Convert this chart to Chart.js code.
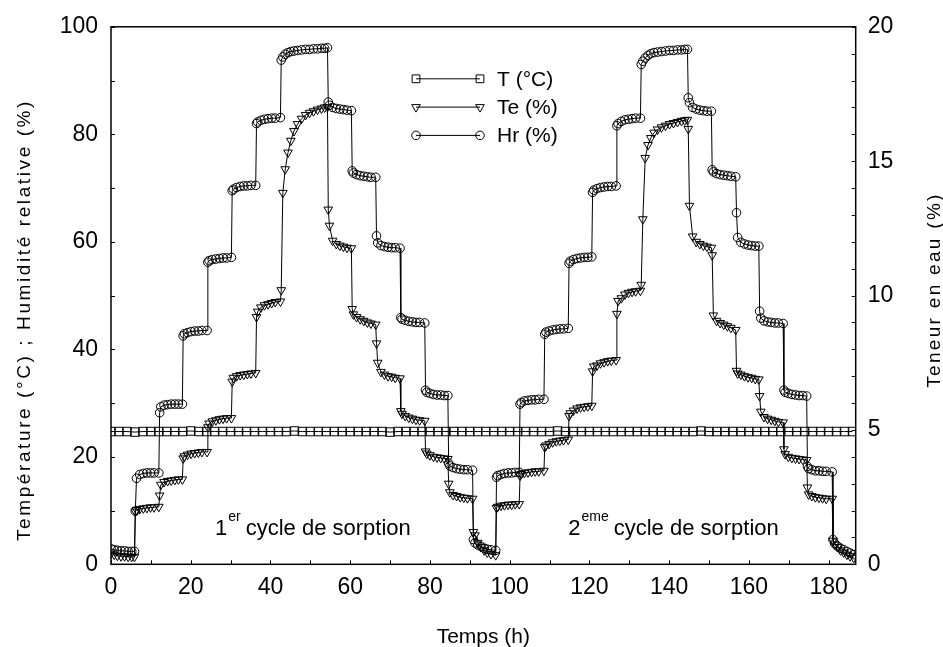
<!DOCTYPE html>
<html>
<head>
<meta charset="utf-8">
<script src="https://cdn.jsdelivr.net/npm/chart.js@4/dist/chart.umd.min.js"></script>
<style>
  html, body { margin: 0; padding: 0; background: #fff; }
  #wrap { width: 943px; height: 647px; }
</style>
</head>
<body>
<div id="wrap"><canvas id="c" width="943" height="647"></canvas></div>
<script>
// ---------- DATA ----------
// Time (h) shared by Hr and Te series
const timeHT = [
  0.0, 0.8, 1.6, 2.5, 3.4, 4.3, 5.2, 5.9,
  6.1, 6.4, 7.2, 8.1, 9.0, 9.9, 10.8, 12.0,
  12.2, 12.5, 13.3, 14.2, 15.1, 16.0, 16.9, 17.9,
  18.1, 18.4, 19.2, 20.1, 21.0, 21.9, 22.8, 24.1,
  24.3, 24.6, 25.4, 26.3, 27.2, 28.1, 29.0, 30.2,
  30.4, 30.7, 31.5, 32.4, 33.3, 34.2, 35.1, 36.3,
  36.5, 36.8, 37.6, 38.5, 39.4, 40.3, 41.2, 42.5,
  42.7, 43.1, 43.7, 44.4, 45.1, 45.9, 46.8, 47.8, 48.8, 49.8, 50.8, 51.8, 52.8, 53.6, 54.3,
  54.5, 54.8, 55.6, 56.5, 57.4, 58.3, 59.2, 60.3,
  60.5, 60.8, 61.6, 62.5, 63.4, 64.3, 65.2, 66.4,
  66.6, 66.9, 67.7, 68.6, 69.5, 70.4, 71.3, 72.5,
  72.7, 73.0, 73.8, 74.7, 75.6, 76.5, 77.4, 78.7,
  78.9, 79.2, 80.0, 80.9, 81.8, 82.7, 83.6, 84.5,
  84.7, 85.0, 85.8, 86.7, 87.6, 88.5, 89.4, 90.7,
  90.9, 91.3, 92.0, 92.8, 93.6, 94.4, 95.3, 96.5,
  96.7, 97.0, 97.8, 98.7, 99.6, 100.5, 101.4, 102.4,
  102.6, 102.9, 103.7, 104.6, 105.5, 106.4, 107.3, 108.6,
  108.8, 109.1, 109.9, 110.8, 111.7, 112.6, 113.5, 114.7,
  114.9, 115.2, 116.0, 116.9, 117.8, 118.7, 119.6, 120.6,
  120.8, 121.1, 121.9, 122.8, 123.7, 124.6, 125.5, 126.7,
  126.9, 127.2, 128.0, 128.9, 129.8, 130.7, 131.6, 132.8,
  133.0, 133.4, 134.0, 134.7, 135.4, 136.2, 137.1, 138.1, 139.1, 140.1, 141.1, 142.1, 143.1, 143.9, 144.6,
  144.8, 145.1, 145.9, 146.8, 147.7, 148.6, 149.5, 150.6,
  150.8, 151.1, 151.9, 152.8, 153.7, 154.6, 155.5, 156.7,
  156.9, 157.2, 158.0, 158.9, 159.8, 160.7, 161.6, 162.5,
  162.7, 163.0, 163.8, 164.7, 165.6, 166.5, 167.4, 168.6,
  168.8, 169.1, 169.9, 170.8, 171.7, 172.6, 173.5, 174.5,
  174.7, 175.0, 175.8, 176.7, 177.6, 178.5, 179.4, 180.9,
  181.1, 181.5, 182.2, 183.0, 183.8, 184.6, 185.4, 186.3
];
// Relative humidity Hr (%) - left axis
const hrValues = [
  2.9, 2.7, 2.6, 2.5, 2.5, 2.4, 2.4, 2.4,
  9.9, 16.0, 16.7, 16.9, 17.0, 17.0, 17.0, 17.0,
  28.2, 29.3, 29.6, 29.7, 29.8, 29.8, 29.8, 29.8,
  42.5, 42.9, 43.1, 43.3, 43.4, 43.4, 43.5, 43.5,
  56.2, 56.5, 56.7, 56.8, 56.9, 57.0, 57.0, 57.1,
  69.5, 69.8, 70.1, 70.3, 70.4, 70.4, 70.5, 70.5,
  82.0, 82.3, 82.6, 82.8, 82.9, 83.0, 83.0, 83.1,
  93.8, 94.4, 94.9, 95.2, 95.4, 95.5, 95.6, 95.7, 95.8, 95.8, 95.9, 95.9, 96.0, 96.0, 96.1,
  86.0, 85.4, 85.0, 84.8, 84.7, 84.6, 84.5, 84.4,
  73.2, 72.8, 72.5, 72.3, 72.2, 72.1, 72.0, 72.0,
  61.1, 59.8, 59.3, 59.1, 59.0, 58.9, 58.9, 58.8,
  45.9, 45.6, 45.4, 45.2, 45.1, 45.0, 45.0, 44.9,
  32.4, 32.0, 31.8, 31.6, 31.5, 31.5, 31.4, 31.4,
  18.8, 18.3, 18.0, 17.8, 17.7, 17.6, 17.6, 17.5,
  4.6, 4.0, 3.6, 3.3, 3.0, 2.8, 2.7, 2.6,
  16.2, 16.5, 16.7, 16.9, 17.0, 17.0, 17.1, 17.1,
  29.8, 30.1, 30.4, 30.5, 30.6, 30.6, 30.7, 30.7,
  42.8, 43.2, 43.4, 43.6, 43.7, 43.8, 43.8, 43.9,
  56.0, 56.4, 56.7, 56.9, 57.0, 57.1, 57.1, 57.2,
  69.2, 69.6, 69.9, 70.1, 70.2, 70.3, 70.3, 70.4,
  81.6, 82.0, 82.4, 82.7, 82.8, 82.9, 83.0, 83.0,
  93.0, 93.6, 94.2, 94.7, 95.0, 95.2, 95.3, 95.4, 95.5, 95.6, 95.6, 95.7, 95.7, 95.8, 95.8,
  86.8, 85.9, 85.0, 84.7, 84.5, 84.4, 84.3, 84.3,
  73.4, 73.0, 72.7, 72.5, 72.4, 72.3, 72.2, 72.1,
  65.4, 60.8, 59.9, 59.6, 59.4, 59.3, 59.2, 59.2,
  47.1, 45.8, 45.3, 45.1, 45.0, 44.9, 44.9, 44.8,
  32.4, 32.0, 31.8, 31.6, 31.5, 31.4, 31.4, 31.3,
  18.2, 17.8, 17.6, 17.4, 17.4, 17.3, 17.3, 17.2,
  4.6, 3.9, 3.4, 3.0, 2.7, 2.4, 2.1, 1.8
];
// Water content Te (%) - right axis
const teValues = [
  0.40, 0.36, 0.32, 0.30, 0.30, 0.28, 0.28, 0.28,
  1.96, 2.02, 2.06, 2.08, 2.10, 2.12, 2.12, 2.14,
  2.56, 2.96, 3.06, 3.10, 3.12, 3.14, 3.16, 3.16,
  3.94, 4.02, 4.08, 4.12, 4.14, 4.16, 4.18, 4.18,
  5.10, 5.24, 5.32, 5.36, 5.40, 5.42, 5.44, 5.44,
  6.80, 6.94, 7.00, 7.04, 7.06, 7.08, 7.10, 7.12,
  9.20, 9.40, 9.56, 9.64, 9.68, 9.72, 9.76, 9.78,
  10.20, 13.82, 14.70, 15.32, 15.76, 16.12, 16.38, 16.58, 16.72, 16.80, 16.86, 16.92, 16.96, 17.00, 17.02,
  13.20, 12.60, 12.04, 11.92, 11.86, 11.82, 11.78, 11.76,
  9.50, 9.30, 9.20, 9.12, 9.06, 9.00, 8.96, 8.92,
  8.22, 7.50, 7.16, 7.06, 7.00, 6.98, 6.94, 6.92,
  5.70, 5.60, 5.52, 5.46, 5.42, 5.38, 5.36, 5.34,
  4.20, 4.12, 4.06, 4.00, 3.98, 3.96, 3.94, 3.92,
  3.00, 2.68, 2.58, 2.54, 2.50, 2.48, 2.46, 2.44,
  1.20, 1.08, 0.80, 0.64, 0.52, 0.44, 0.38, 0.34,
  2.10, 2.14, 2.18, 2.20, 2.22, 2.22, 2.24, 2.24,
  3.30, 3.36, 3.40, 3.42, 3.44, 3.46, 3.46, 3.48,
  4.36, 4.42, 4.48, 4.54, 4.58, 4.60, 4.62, 4.64,
  5.52, 5.62, 5.72, 5.80, 5.84, 5.86, 5.88, 5.90,
  7.18, 7.36, 7.40, 7.48, 7.52, 7.56, 7.58, 7.60,
  9.32, 9.80, 9.90, 10.04, 10.10, 10.14, 10.16, 10.18,
  10.40, 12.84, 15.12, 15.60, 15.86, 16.06, 16.18, 16.26, 16.32, 16.38, 16.42, 16.46, 16.50, 16.52, 16.54,
  16.20, 13.34, 12.20, 12.00, 11.92, 11.86, 11.82, 11.78,
  11.50, 9.26, 9.06, 8.98, 8.92, 8.86, 8.80, 8.72,
  7.20, 7.10, 7.06, 7.00, 6.96, 6.94, 6.90, 6.88,
  6.26, 5.68, 5.48, 5.42, 5.38, 5.34, 5.30, 5.28,
  4.28, 4.10, 4.00, 3.96, 3.94, 3.92, 3.90, 3.88,
  2.86, 2.60, 2.54, 2.50, 2.48, 2.46, 2.44, 2.44,
  0.88, 0.74, 0.64, 0.52, 0.44, 0.36, 0.30, 0.24
];
// Temperature T (°C) - left axis
const tTime = [
  0, 2, 4, 6, 8, 10, 12, 14, 16, 18, 20, 22, 24, 26, 28, 30, 32, 34, 36, 38,
  40, 42, 44, 46, 48, 50, 52, 54, 56, 58, 60, 62, 64, 66, 68, 70, 72, 74, 76, 78,
  80, 82, 84, 86, 88, 90, 92, 94, 96, 98, 100, 102, 104, 106, 108, 110, 112, 114, 116, 118,
  120, 122, 124, 126, 128, 130, 132, 134, 136, 138, 140, 142, 144, 146, 148, 150, 152, 154, 156, 158,
  160, 162, 164, 166, 168, 170, 172, 174, 176, 178, 180, 182, 184, 186
];
const tValues = [
  24.7, 24.7, 24.7, 24.6, 24.7, 24.7, 24.7, 24.7, 24.7, 24.7, 24.8, 24.7, 24.7, 24.7, 24.7, 24.7, 24.7, 24.7, 24.7, 24.7,
  24.7, 24.7, 24.7, 24.8, 24.7, 24.7, 24.7, 24.7, 24.7, 24.7, 24.7, 24.7, 24.7, 24.7, 24.7, 24.6, 24.7, 24.7, 24.7, 24.7,
  24.7, 24.7, 24.7, 24.7, 24.7, 24.7, 24.7, 24.7, 24.7, 24.7, 24.7, 24.7, 24.7, 24.7, 24.7, 24.7, 24.8, 24.7, 24.7, 24.7,
  24.7, 24.7, 24.7, 24.7, 24.7, 24.7, 24.7, 24.7, 24.7, 24.7, 24.7, 24.7, 24.7, 24.7, 24.8, 24.7, 24.7, 24.7, 24.7, 24.7,
  24.7, 24.7, 24.7, 24.7, 24.7, 24.7, 24.7, 24.7, 24.7, 24.7, 24.7, 24.7, 24.7, 24.7
];
const seriesLabels = ['T (°C)', 'Te (%)', 'Hr (%)'];
const xTitle = 'Temps (h)';
const yTitle = 'Température (°C) ; Humidité relative (%)';
const y2Title = 'Teneur en eau (%)';

// ---------- CHART ----------
const FONT = "'Liberation Sans', Arial, Helvetica, sans-serif";
Chart.defaults.color = '#000';
Chart.defaults.font.family = FONT;

function pts(xs, ys) { return xs.map((x, i) => ({ x: x, y: ys[i] })); }

function drawMarker(ctx, style, x, y, r) {
  ctx.beginPath();
  if (style === 'rect') {
    const s = r * Math.SQRT1_2;
    ctx.rect(x - s, y - s, 2 * s, 2 * s);
  } else if (style === 'triangle') {
    ctx.moveTo(x, y + r);
    ctx.lineTo(x - r * 0.866, y - r * 0.5);
    ctx.lineTo(x + r * 0.866, y - r * 0.5);
    ctx.closePath();
  } else {
    ctx.arc(x, y, r, 0, Math.PI * 2);
  }
  ctx.stroke();
}

function spacedText(ctx, text, x, y, spacing) {
  if ('letterSpacing' in ctx) {
    ctx.letterSpacing = spacing + 'px';
    ctx.fillText(text, x, y);
    ctx.letterSpacing = '0px';
  } else {
    ctx.fillText(text, x, y);
  }
}

const decor = {
  id: 'decor',
  afterDraw(chart) {
    const { ctx, chartArea: a, scales } = chart;
    ctx.save();
    ctx.strokeStyle = '#000';
    ctx.lineWidth = 1.5;
    ctx.strokeRect(a.left, a.top, a.right - a.left, a.bottom - a.top);
    ctx.lineWidth = 1;
    ctx.beginPath();
    scales.x.ticks.forEach(t => {
      const p = Math.round(scales.x.getPixelForValue(t.value)) + 0.5;
      ctx.moveTo(p, a.bottom); ctx.lineTo(p, a.bottom - 4);
    });
    scales.y.ticks.forEach(t => {
      const p = Math.round(scales.y.getPixelForValue(t.value)) + 0.5;
      ctx.moveTo(a.left, p); ctx.lineTo(a.left + 4, p);
    });
    scales.y2.ticks.forEach(t => {
      const p = Math.round(scales.y2.getPixelForValue(t.value)) + 0.5;
      ctx.moveTo(a.right, p); ctx.lineTo(a.right - 4, p);
    });
    ctx.stroke();

    // legend
    const styles = ['rect', 'triangle', 'circle'];
    const radii = [5.5, 5, 4.3];
    const lx0 = a.left + 305, lx1 = a.left + 369, ly0 = a.top + 52, dy = 28.3;
    ctx.font = '21px ' + FONT;
    ctx.textBaseline = 'middle';
    ctx.textAlign = 'left';
    ctx.fillStyle = '#000';
    for (let i = 0; i < 3; i++) {
      const yy = ly0 + i * dy;
      ctx.beginPath();
      ctx.moveTo(lx0, yy); ctx.lineTo(lx1, yy);
      ctx.stroke();
      drawMarker(ctx, styles[i], lx0, yy, radii[i]);
      drawMarker(ctx, styles[i], lx1, yy, radii[i]);
      ctx.fillText(seriesLabels[i], lx1 + 17, yy + 1);
    }

    // cycle annotations
    ctx.textBaseline = 'alphabetic';
    const base = scales.y.getPixelForValue(5.4);
    const drawCycle = (xv, num, sup, rest) => {
      let x = scales.x.getPixelForValue(xv);
      ctx.font = '22px ' + FONT;
      ctx.fillText(num, x, base);
      x += ctx.measureText(num).width + 1;
      ctx.font = '14px ' + FONT;
      ctx.fillText(sup, x, base - 14);
      x += ctx.measureText(sup).width + 5;
      ctx.font = '22px ' + FONT;
      ctx.fillText(rest, x, base);
    };
    drawCycle(26.1, '1', 'er', 'cycle de sorption');
    drawCycle(114.7, '2', 'eme', 'cycle de sorption');

    // axis titles
    ctx.font = '21px ' + FONT;
    ctx.textAlign = 'center';
    spacedText(ctx, xTitle, (a.left + a.right) / 2, 643, 0);

    ctx.font = '19px ' + FONT;
    ctx.save();
    ctx.translate(30, 320);
    ctx.rotate(-Math.PI / 2);
    spacedText(ctx, yTitle, 0, 0, 2.6);
    ctx.restore();

    ctx.save();
    ctx.translate(940, 290);
    ctx.rotate(-Math.PI / 2);
    spacedText(ctx, y2Title, 0, 0, 2.3);
    ctx.restore();

    ctx.restore();
  }
};

const common = { borderColor: '#000', borderWidth: 1, pointBorderColor: '#000',
  pointBackgroundColor: 'rgba(0,0,0,0)', pointBorderWidth: 1, tension: 0, fill: false,
  pointHoverRadius: 0 };

new Chart(document.getElementById('c'), {
  type: 'line',
  data: {
    datasets: [
      Object.assign({}, common, { label: seriesLabels[0], data: pts(tTime, tValues), yAxisID: 'y',
        pointStyle: 'rect', pointRadius: 6 }),
      Object.assign({}, common, { label: seriesLabels[1], data: pts(timeHT, teValues), yAxisID: 'y2',
        pointStyle: 'triangle', pointRotation: 180, pointRadius: 5 }),
      Object.assign({}, common, { label: seriesLabels[2], data: pts(timeHT, hrValues), yAxisID: 'y',
        pointStyle: 'circle', pointRadius: 4.3 })
    ]
  },
  options: {
    responsive: false,
    animation: false,
    events: [],
    layout: { padding: { top: 22.7, left: 0, right: 0, bottom: 0 } },
    plugins: { legend: { display: false }, tooltip: { enabled: false } },
    scales: {
      x: {
        type: 'linear', min: 0, max: 186.8,
        grid: { display: false, drawTicks: false },
        border: { display: false },
        ticks: { stepSize: 10, includeBounds: false, autoSkip: false, maxRotation: 0,
          padding: 10, font: { size: 23 },
          callback: v => (v % 20 === 0 ? v : '') },
        afterFit: s => { s.height = 82.7; }
      },
      y: {
        position: 'left', min: 0, max: 100,
        grid: { display: false, drawTicks: false },
        border: { display: false },
        ticks: { stepSize: 10, autoSkip: false, padding: 13, font: { size: 23 },
          callback: v => (v % 20 === 0 ? v : '') },
        afterFit: s => { s.width = 111; }
      },
      y2: {
        position: 'right', min: 0, max: 20,
        grid: { display: false, drawTicks: false },
        border: { display: false },
        ticks: { stepSize: 1, autoSkip: false, padding: 12, font: { size: 23 },
          callback: v => (v % 5 === 0 ? v : '') },
        afterFit: s => { s.width = 87.3; }
      }
    }
  },
  plugins: [decor]
});
</script>
</body>
</html>
